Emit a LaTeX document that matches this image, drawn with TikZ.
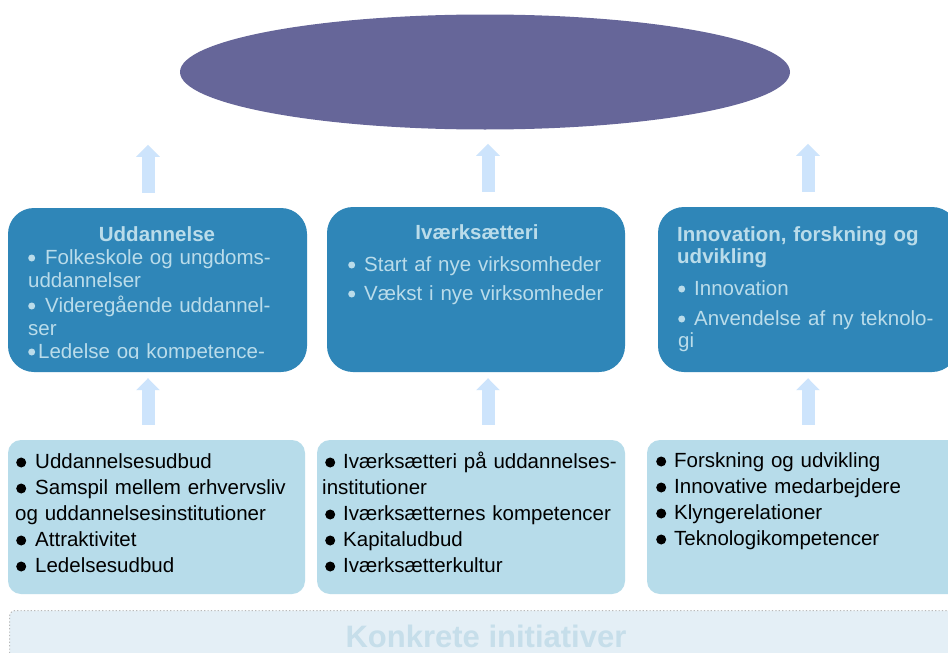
\documentclass[tikz,border=0pt]{standalone}
\usepackage{fontspec}
\setmainfont{Liberation Sans}
\usetikzlibrary{shapes.geometric,arrows.meta}
\definecolor{visionViolet}{RGB}{102,102,153}
\definecolor{midBlue}{RGB}{47,134,184}
\definecolor{paleText}{RGB}{186,220,234}
\definecolor{lowBlue}{RGB}{183,220,234}
\definecolor{arrowBlue}{RGB}{205,228,252}
\definecolor{panelFill}{RGB}{228,239,246}
\definecolor{panelText}{RGB}{198,222,234}
\begin{document}
\begin{tikzpicture}[x=1pt,y=-1pt,
  midbox/.style={fill=midBlue, rounded corners=26pt, inner sep=0pt},
  lowbox/.style={fill=lowBlue, rounded corners=13pt, inner sep=0pt},
  midtext/.style={text=paleText, inner sep=0pt, font=\fontsize{20.5}{23}\selectfont},
  midtitle/.style={text=paleText, inner sep=0pt, font=\fontsize{20.5}{22}\selectfont\bfseries},
  lowtext/.style={text=black, inner sep=0pt, text width=300pt, align=left, font=\fontsize{20.5}{26}\selectfont},
  uparrow/.style={draw=arrowBlue, line width=13pt, -{Triangle[width=23pt,length=12pt]}}]
    \newcommand{\lightDot}{%
        \tikz[baseline=-6pt]\fill[paleText] (3.5pt,0pt) circle (3.5pt);%
    }
    \newcommand{\blackDot}{%
        \tikz[baseline=-5.5pt]\fill[black] (5pt,0pt) circle (5pt);%
    }
\useasboundingbox (0,0) rectangle (948,653);
\fill[white] (0,0) rectangle (948,653);

% top goal
\node[ellipse, fill=visionViolet, minimum width=610pt, minimum height=115pt, inner sep=0pt] (vision) at (485,72) {};

% middle row
\node[midbox, minimum width=299pt, minimum height=164pt] (uddBox) at (157.5,290) {};
\node[midbox, minimum width=298pt, minimum height=165pt] (ivBox) at (476,289.5) {};
\node[midbox, minimum width=300pt, minimum height=165pt] (innoBox) at (808,289.5) {};

\node[midtitle, anchor=base] (uddTitle) at (157,241) {Uddannelse};
\begin{scope}
  \clip (8,208) rectangle (307,358);
  \node[midtext, text width=290pt, align=left, anchor=base west] (uddList) at (28,264)
    {\lightDot\hspace{10pt}Folkeskole og ungdoms-\\uddannelser\\[2pt]
     \lightDot\hspace{10pt}Videregående uddannel-\\ser\\
     \lightDot\hspace{3pt}Ledelse og kompetence-};
\end{scope}

\node[midtitle, anchor=base] (ivTitle) at (477,239) {Iværksætteri};
\node[midtext, text width=280pt, align=left, anchor=base west] (ivList) at (348,271)
  {\lightDot\hspace{9pt}Start af nye virksomheder\\[6pt]
   \lightDot\hspace{9pt}Vækst i nye virksomheder};

\node[midtitle, text width=270pt, align=left, anchor=base west] (innoTitle) at (677,241)
  {Innovation, forskning og\\udvikling};
\node[midtext, text width=270pt, align=left, anchor=base west, font=\fontsize{20.5}{22}\selectfont] (innoList) at (678,295)
  {\lightDot\hspace{9pt}Innovation\\[8pt]
   \lightDot\hspace{9pt}Anvendelse af ny teknolo-\\gi};

% bottom row
\node[lowbox, minimum width=297pt, minimum height=154pt] (lowUdd) at (156.5,517) {};
\node[lowbox, minimum width=308pt, minimum height=154pt] (lowIv) at (471,517) {};
\node[lowbox, minimum width=318pt, minimum height=154pt] (lowInno) at (806,517) {};

\node[lowtext, anchor=base west] (uddDrivers) at (15,468)
  {\hspace*{1pt}\blackDot\hspace{9pt}Uddannelsesudbud\\
   \hspace*{1pt}\blackDot\hspace{9pt}Samspil mellem erhvervsliv\\
   og uddannelsesinstitutioner\\
   \hspace*{1pt}\blackDot\hspace{9pt}Attraktivitet\\
   \hspace*{1pt}\blackDot\hspace{9pt}Ledelsesudbud};
\node[lowtext, anchor=base west] (ivDrivers) at (322,468)
  {\hspace*{3pt}\blackDot\hspace{8pt}Iværksætteri på uddannelses-\\
   institutioner\\
   \hspace*{3pt}\blackDot\hspace{8pt}Iværksætternes kompetencer\\
   \hspace*{3pt}\blackDot\hspace{8pt}Kapitaludbud\\
   \hspace*{3pt}\blackDot\hspace{8pt}Iværksætterkultur};
\node[lowtext, anchor=base west] (innoDrivers) at (656,467)
  {\blackDot\hspace{8pt}Forskning og udvikling\\
   \blackDot\hspace{8pt}Innovative medarbejdere\\
   \blackDot\hspace{8pt}Klyngerelationer\\
   \blackDot\hspace{8pt}Teknologikompetencer};

% arrows
\draw[uparrow] ([xshift=-8.5pt,yshift=15pt]lowUdd.north) -- ([xshift=-9.5pt,yshift=-6pt]uddBox.south);
\draw[uparrow] ([xshift=17pt,yshift=15pt]lowIv.north) -- ([xshift=12pt,yshift=-6pt]ivBox.south);
\draw[uparrow] ([xshift=2pt,yshift=15pt]lowInno.north) -- ([yshift=-6pt]innoBox.south);
\draw[uparrow] ([xshift=-9.5pt,yshift=15pt]uddBox.north) -- ++(0,-48);
\draw[uparrow] ([xshift=12pt,yshift=15pt]ivBox.north) -- ++(0,-48);
\draw[uparrow] ([yshift=15pt]innoBox.north) -- ++(0,-48);

% initiatives panel
\node[fill=panelFill, draw=gray!55, dash pattern=on 1.2pt off 2.2pt, line width=1pt, rounded corners=6pt,
      anchor=north west, minimum width=960pt, minimum height=90pt, inner sep=0pt] (konkretBox) at (9,610) {};
\node[text=panelText, inner sep=0pt, font=\fontsize{31}{31}\selectfont\bfseries, anchor=base] (konkretText) at (486,647) {Konkrete initiativer};
\end{tikzpicture}
\end{document}
